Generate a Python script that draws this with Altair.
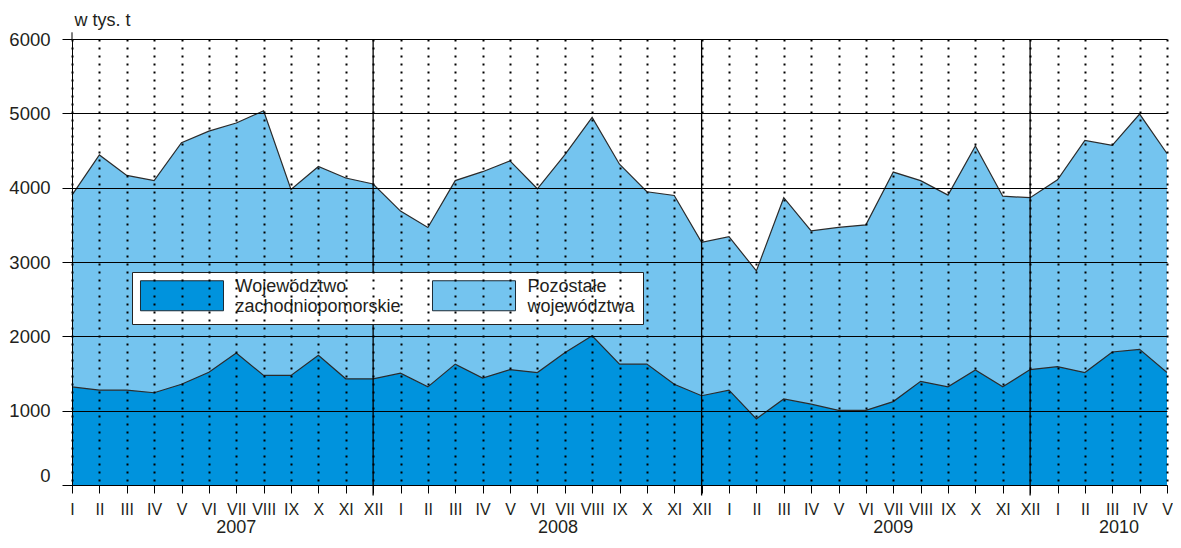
import altair as alt
import pandas as pd

# ---- data ----
month_labels = ["I", "II", "III", "IV", "V", "VI", "VII", "VIII", "IX", "X", "XI", "XII",
                "I", "II", "III", "IV", "V", "VI", "VII", "VIII", "IX", "X", "XI", "XII",
                "I", "II", "III", "IV", "V", "VI", "VII", "VIII", "IX", "X", "XI", "XII",
                "I", "II", "III", "IV", "V"]

total = [3900, 4440, 4165, 4095, 4605, 4760, 4870, 5035, 3975, 4285, 4130, 4050,
         3685, 3465, 4095, 4215, 4360, 3985, 4440, 4945, 4315, 3945, 3895, 3265,
         3340, 2880, 3865, 3420, 3465, 3500, 4210, 4095, 3900, 4560, 3885, 3865,
         4105, 4635, 4570, 4990, 4460]

zachodniopomorskie = [1320, 1276, 1276, 1241, 1355, 1517, 1776, 1474, 1474, 1745, 1429, 1429,
                      1504, 1320, 1626, 1438, 1553, 1513, 1780, 2008, 1626, 1626, 1355, 1201,
                      1276, 890, 1158, 1087, 1004, 1004, 1122, 1395, 1320, 1547, 1320, 1553,
                      1592, 1513, 1789, 1824, 1513]

years = ["2007", "2008", "2009", "2010"]
year_label_pos = [6.0, 17.75, 30.0, 38.25]
year_separators = [11, 23, 35]
y_ticks = [0, 1000, 2000, 3000, 4000, 5000, 6000]

name_zach = "Województwo|zachodniopomorskie"
name_poz = "Pozostałe|województwa"

DARK = "#0093dd"
LIGHT = "#74c4ef"
INK = "#231f20"
FONT = "Liberation Sans"

n = len(month_labels)
df = pd.DataFrame({"i": list(range(n)),
                   "total": total,
                   "zach": zachodniopomorskie,
                   "s_zach": [name_zach] * n,
                   "s_poz": [name_poz] * n})

W, H = 1095, 446

label_array = "[" + ",".join("'" + m + "'" for m in month_labels) + "]"

xscale = alt.Scale(domain=[0, n - 1], nice=False, zero=False)
xaxis = alt.Axis(values=list(range(n)), labelExpr=label_array + "[datum.value]",
                 labelAngle=0, labelFontSize=16, labelFont=FONT, labelColor=INK,
                 labelOverlap=False, labelFlush=False, labelPadding=8,
                 tickSize=8, tickColor="#000", tickWidth=1,
                 domainColor="#000", domainWidth=1,
                 grid=True, gridColor="#000", gridDash=[2, 6], gridWidth=2,
                 zindex=1, title=None)
yaxis = alt.Axis(values=y_ticks, labelFontSize=18.5, labelFont=FONT, labelColor=INK,
                 labelPadding=12, labelFlush=False,
                 labelBaseline=alt.condition("datum.value == 0", alt.value("bottom"), alt.value("middle")),
                 tickSize=10, tickColor="#000", tickWidth=1,
                 domainColor="#000", domainWidth=1,
                 grid=True, gridColor="#000", gridWidth=1,
                 zindex=1, format="d",
                 title="w tys. t", titleAngle=0, titleAlign="left", titleBaseline="alphabetic",
                 titleX=2, titleY=-14, titleFontSize=18, titleFont=FONT,
                 titleFontWeight="normal", titleColor=INK)
yscale = alt.Scale(domain=[0, 6000], nice=False)

X = alt.X("i:Q", scale=xscale, axis=xaxis)

color_scale = alt.Scale(domain=[name_zach, name_poz], range=[DARK, LIGHT])
legend = alt.Legend(orient="none", legendX=60, legendY=233, direction="horizontal", columns=2,
                    title=None,
                    symbolType="M-2.767,-1H2.767V1H-2.767Z", symbolSize=900,
                    symbolOffset=26.5, symbolStrokeColor="#1c2b36", symbolStrokeWidth=1,
                    labelExpr="split(datum.label, '|')", labelFontSize=18, labelFont=FONT,
                    labelColor=INK, labelLimit=400, labelOffset=38, labelBaseline="bottom",
                    columnPadding=29, padding=8,
                    fillColor="white", strokeColor="#222")

base = alt.Chart(df)

area_total = base.mark_area(opacity=1).encode(
    x=X,
    y=alt.Y("total:Q", scale=yscale, axis=yaxis),
    color=alt.Color("s_poz:N", scale=color_scale, legend=legend),
)
area_zach = base.mark_area(opacity=1).encode(
    x=X,
    y=alt.Y("zach:Q", scale=yscale, axis=yaxis),
    color=alt.Color("s_zach:N", scale=color_scale, legend=legend),
)
line_total = base.mark_line(color="#2b2b2b", strokeWidth=1.2).encode(
    x=X, y=alt.Y("total:Q", scale=yscale, axis=yaxis))
line_zach = base.mark_line(color="#2b2b2b", strokeWidth=1.2).encode(
    x=X, y=alt.Y("zach:Q", scale=yscale, axis=yaxis))

sep_df = pd.DataFrame({"i": year_separators})
separators = alt.Chart(sep_df).mark_rule(color="#000", strokeWidth=1.3).encode(
    x=X, y=alt.datum(6000), y2=alt.datum(-140))

axis_top = alt.Chart(pd.DataFrame({"i": [0]})).mark_rule(color="#000", strokeWidth=1).encode(
    x=X, y=alt.datum(6000), y2=alt.datum(6090))

year_df = pd.DataFrame({"i": year_label_pos, "year": years})
year_text = alt.Chart(year_df).mark_text(fontSize=18, font=FONT, color=INK,
                                         baseline="alphabetic", dy=48).encode(
    x=X, y=alt.datum(0), text="year:N")

chart = alt.layer(area_total, area_zach, line_total, line_zach, separators, axis_top, year_text).properties(
    width=W, height=H,
    autosize=alt.AutoSizeParams(type="none"),
    padding={"left": 64, "top": 31, "right": 6, "bottom": 55},
    background="white",
).configure_view(stroke=None)

chart.save("out.html", embed_options={"renderer": "svg", "actions": False})
